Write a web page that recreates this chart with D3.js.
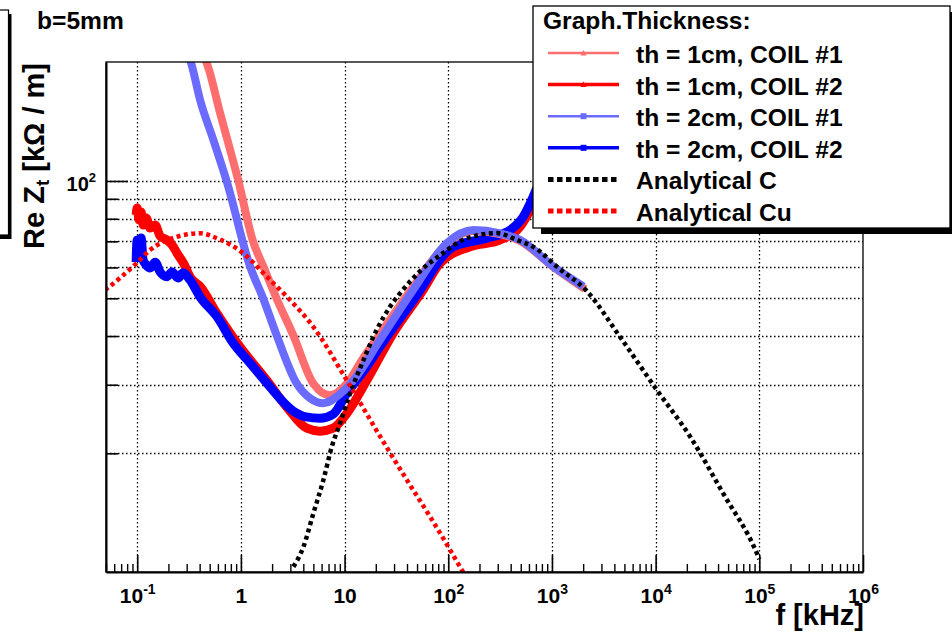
<!DOCTYPE html>
<html><head><meta charset="utf-8">
<script src="https://cdn.jsdelivr.net/npm/d3@7"></script>
<style>
body{margin:0;background:#fff;}
text{font-family:"Liberation Sans",Arial,Helvetica,sans-serif;font-weight:bold;}
</style>
</head><body>
<svg id="chart" width="952" height="636"></svg>
<script>
// ---------- data ----------
const f1cmCoil1 = [0.432,0.469,0.630,0.946,1.311,1.648,2.22,3.21,5.0,7.25,10.5,15.1,22.0,45.8,96.7,173.5,316,492,1025,2085];
const z1cmCoil1 = [210.6,200.5,149.4,100,69.9,60.3,49.8,40.1,30.2,28.2,30.2,35.1,40.5,53.5,68.9,74.4,73.1,70.2,60.2,52.8];

const f1cmCoil2 = [0.0976,0.0998,0.1043,0.109,0.114,0.1218,0.1332,0.1488,0.1663,0.1929,0.2171,0.2479,0.279,0.3237,0.4043,0.5856,0.982,1.777,2.771,4.32,5.8,7.75,10.5,16.4,29.5,57.1,83.3,162.3,316,492,615,768];
const z1cmCoil2 = [81.8,85.2,79.4,83.3,77.1,80.4,75.7,77.1,72.2,70.6,68.5,64.6,61.6,56.7,53.6,45.8,37.5,30.8,26.3,23.2,22.8,23.2,25.3,30.8,40.7,52.5,61.5,67.8,70.6,76.3,84.2,95.9];

const f2cmCoil1 = [0.310,0.329,0.404,0.543,0.731,1.227,1.648,2.22,3.46,4.65,6.25,9.05,12.2,22.0,45.8,96.7,174.6,316,492,1032,2008];
const z2cmCoil1 = [210.6,201.7,161.4,127.4,99.6,60.3,49.8,40.1,30.2,27.7,26.9,28.4,30.8,39.1,52.5,69.2,74.8,73.4,70.6,60.3,53.6];

const f2cmCoil2 = [0.0976,0.0998,0.1043,0.109,0.114,0.1218,0.1332,0.1488,0.1663,0.1929,0.2171,0.2479,0.2771,0.3237,0.4043,0.5856,0.8466,1.227,1.777,3.187,4.25,5.8,7.75,10.5,16.4,22.0,46.1,112,235,394,530,639,768];
const z2cmCoil2 = [61.9,70.6,66.5,71.4,62.7,60.9,59.8,61.9,58.4,56.8,58.4,56.4,58.1,55.7,50.4,44.9,38.3,34.1,30.3,25.7,24.8,24.6,25.2,28.5,33.4,37.6,49.5,67.8,71.3,74.8,81.0,89.4,100.6];

const fAnaC = [3.21,4.01,5.00,6.25,7.53,9.05,11.3,15.2,20.4,27.5,34.3,53.5,89.1,138.9,293.6,457.6,713.5,1112,2166,4536,10250,21470,44670,94400,100000];
const zAnaC = [10.23,11.51,14.03,17.1,20.8,23.9,28.5,34.7,41.5,47.6,51.5,58.7,65.3,70.6,73.5,70.6,66.9,60.3,52.2,39.8,29.1,22.1,15.8,11.1,10.7];

const fAnaCu = [0.049,0.0684,0.0991,0.1332,0.241,0.4043,0.5856,1.057,1.777,2.771,4.97,10.5,22.0,39.8,66.8,138.9];
const zAnaCu = [52.5,56.4,61.6,66.5,71.9,73.4,71.3,65.2,56.8,50.5,42.3,30.8,22.1,17.1,13.75,9.92];

const legendHeader = "Graph.Thickness:";
const legendLabels = ["th = 1cm, COIL #1","th = 1cm, COIL #2","th = 2cm, COIL #1","th = 2cm, COIL #2","Analytical C","Analytical Cu"];
const xMajorExponents = [-1,0,1,2,3,4,5,6];
const yGridValues = [20,30,40,50,60,70,80,90,100];
const yMinorTicks = [20,30,40,50,60,70,80,90];
const yMajorTicks = [100];
const yMajorLabel = ["10","2"];
const xTitle = "f [kHz]";
const topLabel = "b=5mm";

// ---------- layout ----------
const svg = d3.select("#chart");
const P = {l:106, r:863, t:62, b:572};
const x = d3.scaleLog().domain([0.05,1e6]).range([P.l,P.r]);
const y = d3.scaleLog().domain([9.92,202]).range([P.b,P.t]);

svg.append("rect").attr("width",952).attr("height",636).attr("fill","#fff");

// partially visible pave at the left
svg.append("rect").attr("x",-30).attr("y",14).attr("width",41.5).attr("height",225).attr("fill","#000");
svg.append("rect").attr("x",-30).attr("y",10).attr("width",38.5).attr("height",225).attr("fill","#fff").attr("stroke","#000").attr("stroke-width",1.2);

svg.append("text").attr("transform","translate(37,28.5) scale(1.07,1)").attr("font-size",23).attr("fill","#000").text(topLabel);

// grid
const grid = svg.append("g").attr("stroke","#000").attr("stroke-width",1.3).attr("stroke-dasharray","1.5,2.5");
const xGrid = xMajorExponents.filter(e=>e<6).map(e=>Math.pow(10,e));
grid.selectAll("line.vx").data(xGrid).join("line")
  .attr("x1",d=>Math.round(x(d))+0.5).attr("x2",d=>Math.round(x(d))+0.5).attr("y1",P.t).attr("y2",P.b);
grid.selectAll("line.hy").data(yGridValues).join("line")
  .attr("y1",d=>Math.round(y(d))+0.5).attr("y2",d=>Math.round(y(d))+0.5).attr("x1",P.l).attr("x2",P.r);

// curves
svg.append("clipPath").attr("id","clip").append("rect").attr("x",P.l).attr("y",P.t).attr("width",P.r-P.l).attr("height",P.b-P.t);
const plotG = svg.append("g").attr("clip-path","url(#clip)");
const line = d3.line().x(d=>x(d[0])).y(d=>y(d[1])).curve(d3.curveMonotoneX);
const zip = (a,b)=>a.map((v,i)=>[v,b[i]]);

const series = [
  {f:f1cmCoil2, z:z1cmCoil2, color:"#ff0000", w:9, dash:null},
  {f:f2cmCoil2, z:z2cmCoil2, color:"#0000ff", w:9, dash:null},
  {f:f1cmCoil1, z:z1cmCoil1, color:"#ff6e6e", w:8, dash:null},
  {f:f2cmCoil1, z:z2cmCoil1, color:"#6b6bff", w:8, dash:null},
  {f:fAnaC,     z:zAnaC,     color:"#000000", w:4.5, dash:"4,3.5"},
  {f:fAnaCu,    z:zAnaCu,    color:"#ff0000", w:4.5, dash:"4,3.5"}
];
series.forEach(s=>{
  plotG.append("path").datum(zip(s.f,s.z)).attr("d",line)
    .attr("fill","none").attr("stroke",s.color).attr("stroke-width",s.w)
    .attr("stroke-linejoin","round").attr("stroke-dasharray",s.dash);
});

// frame
svg.append("rect").attr("x",P.l).attr("y",P.t).attr("width",P.r-P.l).attr("height",P.b-P.t)
  .attr("fill","none").attr("stroke","#000").attr("stroke-width",1.3);

// x axis minor ticks
const xMinor = [];
for(let e=-2;e<6;e++) for(let k=2;k<=9;k++){ const v=k*Math.pow(10,e); if(v>=0.05 && v<=1e6) xMinor.push(v); }
const xAxMinor = svg.append("g").attr("transform",`translate(0,${P.b})`)
  .call(d3.axisBottom(x).tickValues(xMinor).tickSize(-8).tickSizeOuter(0).tickFormat(""));
xAxMinor.select(".domain").remove();
xAxMinor.selectAll(".tick line").attr("stroke-width",1.4);

const xMajor = xMajorExponents.map(e=>Math.pow(10,e));
const xAx = svg.append("g").attr("transform",`translate(0,${P.b})`)
  .call(d3.axisBottom(x).tickValues(xMajor).tickSize(-17).tickSizeOuter(0).tickFormat(""));
xAx.select(".domain").attr("stroke-width",2.2);
xAx.selectAll(".tick line").attr("stroke-width",1.6);
xAx.selectAll(".tick").append("text").attr("y",31).attr("fill","#000").attr("font-size",21)
  .attr("text-anchor","middle")
  .each(function(d){
    const e = Math.round(Math.log10(d));
    const t = d3.select(this);
    if(e===0){ t.text("1"); }
    else if(e===1){ t.text("10"); }
    else {
      t.append("tspan").text("10");
      t.append("tspan").attr("dy",-9).attr("font-size",14).text(String(e));
    }
  });

// y axis
const yAxMinor = svg.append("g").attr("transform",`translate(${P.l},0)`)
  .call(d3.axisLeft(y).tickValues(yMinorTicks).tickSize(-12).tickSizeOuter(0).tickFormat(""));
yAxMinor.select(".domain").remove();
yAxMinor.selectAll(".tick line").attr("stroke-width",1.6);
const yAx = svg.append("g").attr("transform",`translate(${P.l},0)`)
  .call(d3.axisLeft(y).tickValues(yMajorTicks).tickSize(-22).tickSizeOuter(0).tickFormat(""));
yAx.select(".domain").attr("stroke-width",2);
yAx.selectAll(".tick line").attr("stroke-width",1.6);
yAx.selectAll(".tick").append("text").attr("x",-10).attr("y",10).attr("fill","#000").attr("font-size",20)
  .attr("text-anchor","end")
  .each(function(){
    const t=d3.select(this);
    t.append("tspan").text(yMajorLabel[0]);
    t.append("tspan").attr("dy",-9).attr("font-size",13).text(yMajorLabel[1]);
  });

// axis titles
svg.append("text").attr("x",864).attr("y",625).attr("text-anchor","end").attr("font-size",29).attr("fill","#000").text(xTitle);
const yt = svg.append("text").attr("transform","translate(44,63) rotate(-90)").attr("text-anchor","end").attr("font-size",29).attr("fill","#000");
yt.append("tspan").text("Re Z");
yt.append("tspan").attr("font-size",19).attr("dy",5).text("t");
yt.append("tspan").attr("dy",-5).text(" [kΩ / m]");

// legend
const L = {x:533, y:6, w:417, h:222};
svg.append("rect").attr("x",L.x+8).attr("y",L.y+6).attr("width",L.w).attr("height",L.h).attr("fill","#000");
svg.append("rect").attr("x",L.x).attr("y",L.y).attr("width",L.w).attr("height",L.h).attr("fill","#fff").attr("stroke","#000").attr("stroke-width",1.3);
svg.append("text").attr("transform",`translate(543,28.5) scale(1.07,1)`).attr("font-size",23).attr("fill","#000").text(legendHeader);
const legStyles = [
  {color:"#ff6e6e", w:2.5, dash:null, mk:"tri"},
  {color:"#ff0000", w:3.5, dash:null, mk:"tri"},
  {color:"#6b6bff", w:2.5, dash:null, mk:"sq"},
  {color:"#0000ff", w:3.5, dash:null, mk:"sq"},
  {color:"#000000", w:5, dash:"5.5,3.5", mk:null},
  {color:"#ff0000", w:5, dash:"5.5,3.5", mk:null}
];
legendLabels.forEach((lab,i)=>{
  const cy = 53 + i*31.6;
  const st = legStyles[i];
  svg.append("line").attr("x1",548).attr("x2",619).attr("y1",cy).attr("y2",cy)
    .attr("stroke",st.color).attr("stroke-width",st.w).attr("stroke-dasharray",st.dash);
  if(st.mk==="sq") svg.append("rect").attr("x",580.5).attr("y",cy-3).attr("width",6).attr("height",6).attr("fill",st.color);
  if(st.mk==="tri") svg.append("path").attr("d",`M${583.5-3},${cy+2.5}L${583.5},${cy-3}L${583.5+3},${cy+2.5}Z`).attr("fill",st.color);
  svg.append("text").attr("transform",`translate(636,${cy+10}) scale(1.07,1)`).attr("font-size",23).attr("fill","#000").text(lab);
});
</script>
</body></html>
